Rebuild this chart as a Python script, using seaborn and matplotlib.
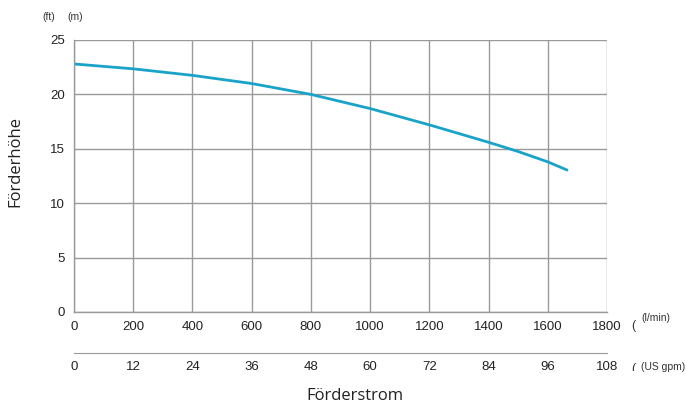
import numpy as np
import pandas as pd
import matplotlib
matplotlib.use("Agg")
import matplotlib.pyplot as plt
from matplotlib.transforms import Bbox
import seaborn as sns

# Pump curve
flow_lmin = [0, 200, 400, 600, 800, 1000, 1200, 1400, 1500, 1600, 1665]
head_m = [22.8, 22.35, 21.75, 21.0, 20.0, 18.7, 17.2, 15.6, 14.75, 13.8, 13.05]

x_ticks = [0, 200, 400, 600, 800, 1000, 1200, 1400, 1600, 1800]
y_ticks = [0, 5, 10, 15, 20, 25]
gpm_ticks = [0, 12, 24, 36, 48, 60, 72, 84, 96, 108]

df = pd.DataFrame({"flow": flow_lmin, "head": head_m})

sns.set_style("white")
plt.rcParams['font.family'] = ['Liberation Sans Narrow', 'Liberation Sans', 'DejaVu Sans']

W, H = 686, 408
fig = plt.figure(figsize=(W / 100, H / 100), dpi=100)
ax = fig.add_axes([74/W, 1-312/H, (607-74)/W, (312-40)/H])

sns.lineplot(data=df, x="flow", y="head", ax=ax, color="#1aa3c9", linewidth=2.0)

ax.set_xlim(0, 1800)
ax.set_ylim(0, 25)
ax.set_xticks(x_ticks)
ax.set_yticks(y_ticks)
ax.grid(True, color="#9a9a9a", linewidth=1.0)
ax.set_axisbelow(True)
for s in ["top", "right"]:
    ax.spines[s].set_visible(False)
for s in ["left", "bottom"]:
    ax.spines[s].set_color("#9a9a9a")
    ax.spines[s].set_linewidth(1.0)
ax.tick_params(axis="both", length=4, width=1, color="#9a9a9a",
               labelsize=9.5, labelcolor="#222222", pad=2.5)
ax.set_xlabel("")
ax.set_ylabel("")

# second axis (US gpm)
ax2 = fig.add_axes([74/W, 1-353/H, (607-74)/W, 0.0001])
ax2.set_xlim(0, 108)
ax2.set_xticks(gpm_ticks)
ax2.set_yticks([])
for s in ["top", "right", "left"]:
    ax2.spines[s].set_visible(False)
ax2.spines["bottom"].set_color("#9a9a9a")
ax2.tick_params(axis="x", length=4, width=1, color="#9a9a9a",
                labelsize=9.5, labelcolor="#222222", pad=1.5)
ax2.patch.set_alpha(0)

# the gpm labels are cut off in the original
clip = Bbox([[0, H - 371], [W, H]])
for lab in ax2.get_xticklabels():
    lab.set_clip_box(clip)
    lab.set_clip_on(True)

fs_small = 7.5
col = "#333333"
fig.text(42/W, 1-17/H, "(ft)", fontsize=fs_small, color=col, va="center")
fig.text(67/W, 1-17/H, "(m)", fontsize=fs_small, color=col, va="center")
fig.text(641/W, 1-318/H, "(l/min)", fontsize=fs_small, color=col, va="center")
fig.text(641/W, 1-367/H, "(US gpm)", fontsize=fs_small, color=col, va="center")
fig.text(631/W, 1-326/H, "(", fontsize=9, color=col, va="center")
p2 = fig.text(631/W, 1-369/H, "(", fontsize=9, color=col, va="center")
p2.set_clip_box(clip)
p2.set_clip_on(True)

fig.text(15/W, 1-162/H, "Förderhöhe", fontsize=12, rotation=90,
         ha="center", va="center", color="#222222", family=["Open Sans", "DejaVu Sans"])
fig.text(355/W, 1-396/H, "Förderstrom", fontsize=12,
         ha="center", va="center", color="#222222", family=["Open Sans", "DejaVu Sans"])

fig.savefig("out.png", dpi=100)
